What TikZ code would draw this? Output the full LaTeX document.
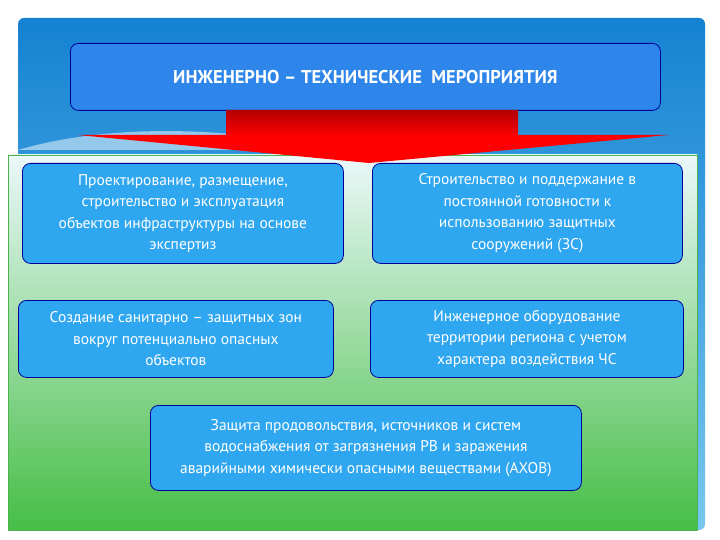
\documentclass[tikz,border=0pt]{standalone}
\usepackage{fontspec}
\setmainfont{PT Sans}
\begin{document}
\begin{tikzpicture}[x=1pt,y=-1pt,
  bx/.style={draw=blue!60!black,line width=0.8pt,rounded corners=8pt,fill=cyanbox,text=white,align=center,font=\fontsize{15.5}{21.5}\selectfont,anchor=north west,inner sep=2pt}]
\definecolor{cyanbox}{HTML}{2FA6F0}
\definecolor{titleblue}{HTML}{2E86EA}
\useasboundingbox (0,0) rectangle (720,540);
\fill[white] (0,0) rectangle (720,540);
\shade[top color={rgb,255:red,20;green,130;blue,210},bottom color={rgb,255:red,120;green,200;blue,240},rounded corners=6pt] (18,18) rectangle (705,530);
\fill[white,opacity=0.5] (18,150) .. controls (120,120) and (250,130) .. (330,150) -- cycle;
\shade[top color={rgb,255:red,235;green,248;blue,250},bottom color={rgb,255:red,70;green,190;blue,70}] (8,155) rectangle (697,530);
\draw[green!40!gray,line width=0.5pt] (8,155) rectangle (697,530);
\node[draw=blue!60!black,line width=0.8pt,rounded corners=8pt,fill=titleblue,text=white,minimum width=590pt,minimum height=67pt,anchor=north west,font=\bfseries\fontsize{18.5}{22}\selectfont] (title) at (70,43) {ИНЖЕНЕРНО – ТЕХНИЧЕСКИЕ \ МЕРОПРИЯТИЯ};
\shade[top color=red!70!black,bottom color=red,middle color=red] (226,110) -- (518,110) -- (518,135) -- (668,135) -- (369,163) -- (78,135) -- (226,135) -- cycle;
\node[bx,minimum width=321pt,minimum height=100pt] (a) at (22,163) {Проектирование, размещение,\\строительство и эксплуатация\\объектов инфраструктуры на основе\\экспертиз};
\node[bx,minimum width=310pt,minimum height=100pt] (b) at (372,163) {Строительство и поддержание в\\постоянной готовности к\\использованию защитных\\сооружений (ЗС)};
\node[bx,minimum width=315pt,minimum height=77pt] (c) at (18,300) {Создание санитарно – защитных зон\\вокруг потенциально опасных\\объектов};
\node[bx,minimum width=313pt,minimum height=77pt] (d) at (370,300) {Инженерное оборудование\\территории региона с учетом\\характера воздействия ЧС};
\node[bx,minimum width=431pt,minimum height=85pt] (e) at (150,405) {Защита продовольствия, источников и систем\\водоснабжения от загрязнения РВ и заражения\\аварийными химически опасными веществами (АХОВ)};
\end{tikzpicture}
\end{document}
